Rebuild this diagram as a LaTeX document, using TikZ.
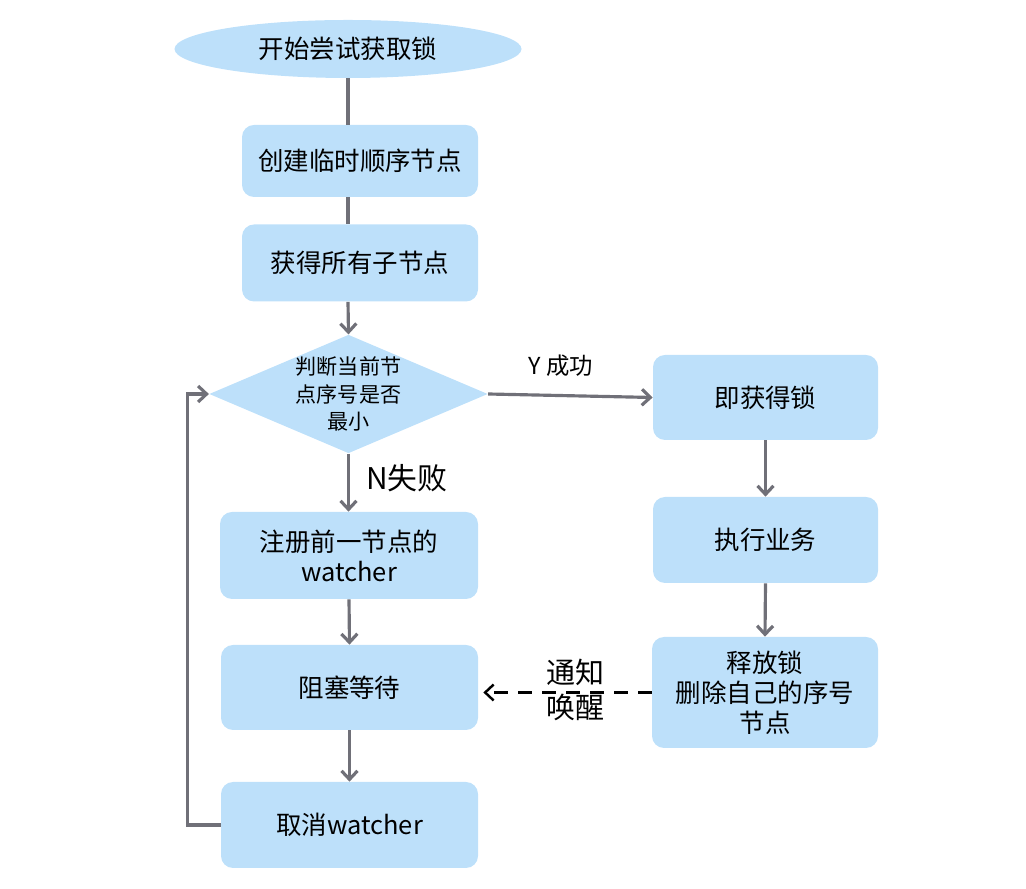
\documentclass[tikz,border=0pt]{standalone}
\usepackage{fontspec}
\setmainfont{Noto Sans CJK SC}
\usetikzlibrary{shapes.geometric,arrows.meta}
\definecolor{boxblue}{RGB}{189,224,250}
\definecolor{linegray}{RGB}{112,112,120}
\begin{document}
\begin{tikzpicture}[
  box/.style={fill=boxblue,rounded corners=0.24cm,align=center,inner sep=0pt,font=\fontsize{14.5}{17}\selectfont},
  flow/.style={draw=linegray,line width=1.8pt,-{Straight Barb[length=1.7mm,width=3.2mm]}},
  plain/.style={draw=linegray,line width=1.8pt},
  notify/.style={draw=black,line width=1.4pt,dash pattern=on 0.28cm off 0.2cm,-{Straight Barb[length=1.7mm,width=3.2mm]}},
  tag/.style={align=center,inner sep=0pt}
]
\useasboundingbox (0,0) rectangle (20.52,17.78);
\node[ellipse,fill=boxblue,minimum width=6.94cm,minimum height=1.16cm,inner sep=0pt,font=\fontsize{14.5}{17}\selectfont] (start) at (6.96,16.8) {开始尝试获取锁};
\node[box,minimum width=4.72cm,minimum height=1.44cm] (create) at (7.2,14.56) {创建临时顺序节点};
\node[box,minimum width=4.72cm,minimum height=1.54cm] (children) at (7.2,12.52) {获得所有子节点};
\node[diamond,fill=boxblue,aspect=2.35,minimum width=5.54cm,minimum height=2.36cm,inner sep=0pt,align=center,font=\fontsize{12}{15.4}\selectfont] (judge) at (6.97,9.9) {判断当前节\\点序号是否\\最小};
\node[box,minimum width=4.5cm,minimum height=1.7cm] (lock) at (15.31,9.83) {即获得锁};
\node[box,minimum width=4.5cm,minimum height=1.72cm] (work) at (15.31,6.98) {执行业务};
\node[box,minimum width=4.52cm,minimum height=2.22cm] (release) at (15.3,3.93) {释放锁\\删除自己的序号\\节点};
\node[box,minimum width=5.16cm,minimum height=1.74cm] (watch) at (6.98,6.67) {注册前一节点的\\watcher};
\node[box,minimum width=5.14cm,minimum height=1.7cm] (wait) at (6.99,4.03) {阻塞等待};
\node[box,minimum width=5.14cm,minimum height=1.72cm] (cancel) at (6.99,1.28) {取消watcher};
\draw[plain] (start.south) -- (start.south |- create.north);
\draw[plain] (start.south |- create.south) -- (start.south |- children.north);
\draw[flow] (start.south |- children.south) -- (judge.north);
\draw[flow] (judge.east) -- (lock.west);
\draw[flow] (judge.south) -- (judge.south |- watch.north);
\draw[flow] (watch.south) -- (wait.north);
\draw[flow] (wait.south) -- (cancel.north);
\draw[flow] (lock.south) -- (work.north);
\draw[flow] (work.south) -- (release.north);
\draw[notify,shorten >=0.1cm] (release.west) -- (release.west -| wait.east);
\draw[flow] (cancel.west) -- ++(-0.66,0) |- (judge.west);
\node[tag,font=\fontsize{13.3}{16}\selectfont] (yes) at (11.22,10.46) {Y 成功};
\node[tag,font=\fontsize{17}{20}\selectfont] (no) at (8.14,8.22) {N失败};
\node[tag,font=\fontsize{16.5}{20}\selectfont] (wake) at (11.5,3.98) {通知\\唤醒};
\end{tikzpicture}
\end{document}
